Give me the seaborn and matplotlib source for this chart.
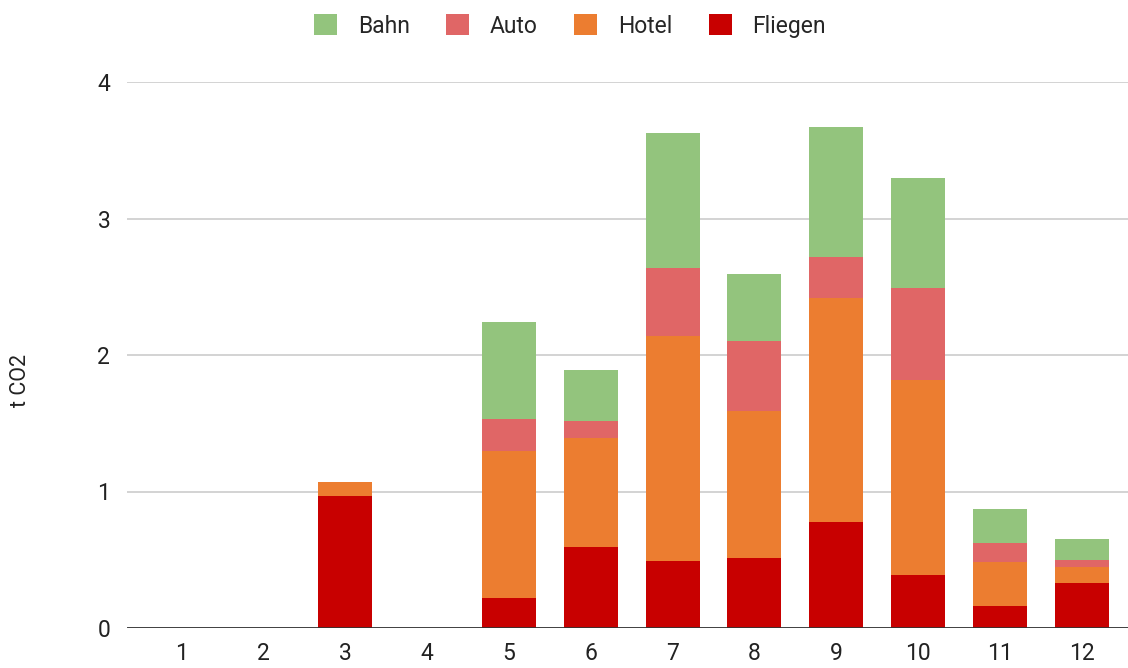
import numpy as np
import pandas as pd
import matplotlib
matplotlib.use('Agg')
import matplotlib.pyplot as plt
import seaborn as sns
from matplotlib.patches import Patch

# Monthly emissions (t CO2) per category
months  = [1, 2, 3, 4, 5, 6, 7, 8, 9, 10, 11, 12]
fliegen = [0, 0, 0.97, 0, 0.22, 0.59, 0.49, 0.51, 0.78, 0.39, 0.16, 0.33]
hotel   = [0, 0, 0.10, 0, 1.08, 0.80, 1.65, 1.08, 1.64, 1.43, 0.32, 0.12]
auto    = [0, 0, 0.00, 0, 0.23, 0.13, 0.50, 0.51, 0.30, 0.67, 0.14, 0.05]
bahn    = [0, 0, 0.00, 0, 0.71, 0.37, 0.99, 0.49, 0.95, 0.81, 0.25, 0.15]

series = ['Bahn', 'Auto', 'Hotel', 'Fliegen']
colors = {'Bahn': '#93c47d', 'Auto': '#e06666',
          'Hotel': '#ec7d30', 'Fliegen': '#c80000'}

df = pd.DataFrame({'month': [str(m) for m in months],
                   'Fliegen': fliegen, 'Hotel': hotel,
                   'Auto': auto, 'Bahn': bahn})
# cumulative tops, bottom layer first
df['c_Fliegen'] = df['Fliegen']
df['c_Hotel']   = df['c_Fliegen'] + df['Hotel']
df['c_Auto']    = df['c_Hotel'] + df['Auto']
df['c_Bahn']    = df['c_Auto'] + df['Bahn']

sns.set_style('white')
plt.rcParams['font.family'] = ['Roboto', 'DejaVu Sans']

fig = plt.figure(figsize=(11.28, 6.68), dpi=100)
ax = fig.add_axes([127 / 1128, 1 - 628 / 668, 1 - 127 / 1128, (628 - 82) / 668])

# draw tallest stack first so lower layers cover it
for name in series:
    sns.barplot(data=df, x='month', y=f'c_{name}', color=colors[name],
                width=0.66, saturation=1, linewidth=0, ax=ax, zorder=3)

ax.set_ylim(0, 4)
ax.set_xlim(-0.66, 11.56)
ax.set_yticks([0, 1, 2, 3, 4])
ax.yaxis.grid(True, color='#cccccc', linewidth=1.2, zorder=0)
ax.axhline(0, color='#333333', linewidth=2, zorder=4)
for s in ax.spines.values():
    s.set_visible(False)
ax.tick_params(axis='both', length=0, labelsize=16.5, colors='#222222')
ax.tick_params(axis='y', pad=12)
ax.tick_params(axis='x', pad=10)
ax.set_xlabel('')
ax.set_ylabel('t CO2', fontsize=15.5, color='#222222')
ax.yaxis.set_label_coords(-0.096, 0.454)

handles = [Patch(facecolor=colors[n], edgecolor='none', label=n) for n in series]
fig.legend(handles=handles, loc='center', bbox_to_anchor=(570 / 1128, 1 - 26 / 668),
           ncol=4, frameon=False, fontsize=16.5, handlelength=1.0, handleheight=1.0,
           handletextpad=0.9, columnspacing=1.6)

fig.savefig('out.png', dpi=100)
